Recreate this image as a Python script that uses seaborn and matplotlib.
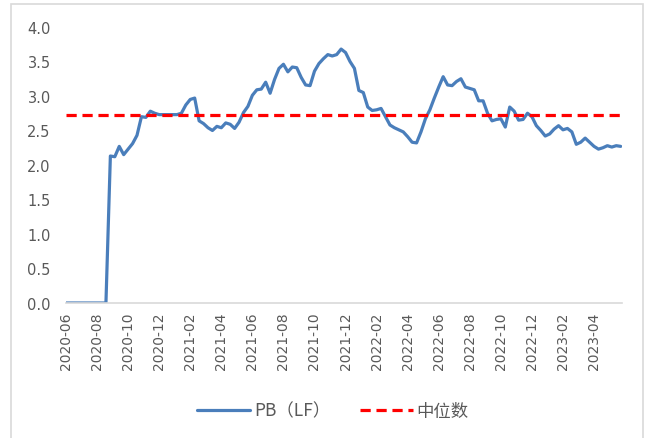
import matplotlib
matplotlib.use("Agg")
import matplotlib.pyplot as plt
import seaborn as sns
import pandas as pd
from matplotlib.patches import Rectangle

# weekly PB (LF) readings
pb_values = [
    0, 0, 0, 0, 0, 0, 0, 0, 0, 0,
    2.13, 2.12, 2.27, 2.15, 2.23, 2.31, 2.43, 2.70, 2.69, 2.78,
    2.75, 2.73, 2.73, 2.73, 2.73, 2.73, 2.75, 2.87, 2.95, 2.97,
    2.64, 2.60, 2.54, 2.50, 2.56, 2.54, 2.61, 2.59, 2.53, 2.62,
    2.76, 2.85, 3.01, 3.09, 3.10, 3.20, 3.04, 3.24, 3.40, 3.46,
    3.35, 3.42, 3.41, 3.27, 3.16, 3.15, 3.36, 3.47, 3.54, 3.60,
    3.58, 3.60, 3.68, 3.63, 3.50, 3.40, 3.08, 3.05, 2.84, 2.79,
    2.80, 2.82, 2.70, 2.58, 2.54, 2.51, 2.48, 2.41, 2.33, 2.32,
    2.48, 2.67, 2.80, 2.97, 3.13, 3.28, 3.16, 3.15, 3.21, 3.25,
    3.13, 3.11, 3.09, 2.93, 2.93, 2.75, 2.64, 2.66, 2.67, 2.55,
    2.84, 2.78, 2.65, 2.66, 2.75, 2.70, 2.57, 2.50, 2.42, 2.45,
    2.52, 2.57, 2.51, 2.53, 2.48, 2.30, 2.33, 2.39, 2.33, 2.27,
    2.23, 2.25, 2.28, 2.26, 2.28, 2.27,
]
median_value = 2.73

tick_labels = [
    "2020-06", "2020-08", "2020-10", "2020-12", "2021-02", "2021-04",
    "2021-06", "2021-08", "2021-10", "2021-12", "2022-02", "2022-04",
    "2022-06", "2022-08", "2022-10", "2022-12", "2023-02", "2023-04",
]
label_step = 7

df = pd.DataFrame({
    "idx": range(len(pb_values)),
    "pb": pb_values,
    "median": [median_value] * len(pb_values),
})

sns.set_theme(style="white")
plt.rcParams["font.family"] = ["DejaVu Sans", "Noto Sans CJK SC"]
grey = "#595959"

fig = plt.figure(figsize=(6.47, 4.39), dpi=100)
ax = fig.add_axes([66 / 647, 135 / 439, 556 / 647, 276 / 439])

sns.lineplot(data=df, x="idx", y="pb", ax=ax, color="#4A7EBB",
             linewidth=2.3, label="PB（LF）")
sns.lineplot(data=df, x="idx", y="median", ax=ax, color="#FF0000",
             linewidth=2.3, linestyle=(0, (3.2, 1.8)), label="中位数")

ax.set_xlim(0, len(pb_values) - 1 + 0.3)
ax.set_ylim(0, 4.0)
ax.set_yticks([i * 0.5 for i in range(9)])
ax.set_yticklabels([f"{i * 0.5:.1f}" for i in range(9)], color=grey, fontsize=10.5)
ax.set_xticks([i * label_step for i in range(len(tick_labels))])
ax.set_xticklabels(tick_labels, rotation=90, color=grey, fontsize=10)
ax.tick_params(axis="both", length=0)
ax.tick_params(axis="x", pad=6)
ax.tick_params(axis="y", pad=11)
ax.set_xlabel("")
ax.set_ylabel("")

for side in ["top", "right", "left"]:
    ax.spines[side].set_visible(False)
ax.spines["bottom"].set_color("#D9D9D9")
ax.spines["bottom"].set_linewidth(1.2)

ax.get_legend().remove()
handles, labels = ax.get_legend_handles_labels()
leg = fig.legend(handles, labels, loc="center", bbox_to_anchor=(0.515, 0.062),
                 ncol=2, frameon=False, handlelength=3.05,
                 handletextpad=0.22, columnspacing=1.7,
                 prop={"family": ["Noto Sans CJK SC", "DejaVu Sans"], "size": 12.5})
for t in leg.get_texts():
    t.set_color(grey)

# outer chart border
fig.patches.append(Rectangle((11 / 647, -0.1), 632 / 647, 1.1 - 5 / 439,
                             transform=fig.transFigure, fill=False,
                             edgecolor="#D9D9D9", linewidth=1.2))

fig.savefig("out.png", dpi=100)
